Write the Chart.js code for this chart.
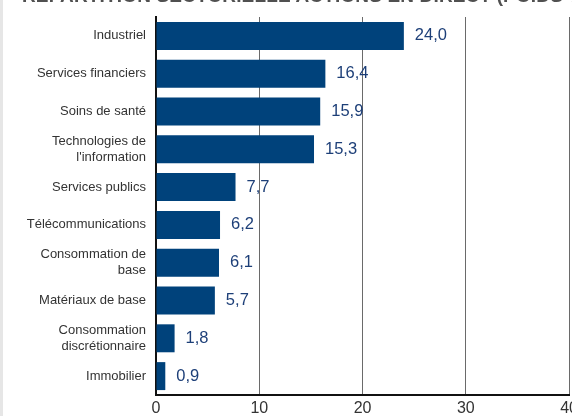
<!DOCTYPE html>
<html>
<head>
<meta charset="utf-8">
<script src="https://cdn.jsdelivr.net/npm/chart.js@4.4.0/dist/chart.umd.min.js"></script>
<style>
  html, body { margin:0; padding:0; background:#fff; overflow:hidden; width:572px; height:416px; }
  #wrap { position:absolute; left:0; top:0; width:582px; height:416px; }
  #edge { position:absolute; left:0; top:0; width:3px; height:416px; background:#e6e6e6; z-index:2; }
  #title { position:absolute; left:22px; top:-15px; white-space:nowrap; font-family:"Liberation Sans Narrow","Liberation Sans",Arial,sans-serif; font-weight:bold; font-size:19px; color:#505050; letter-spacing:0.15px; z-index:2; }
</style>
</head>
<body>
<div id="edge"></div>
<div id="title">RÉPARTITION SECTORIELLE ACTIONS EN DIRECT (POIDS %)</div>
<div id="wrap"><canvas id="c" width="582" height="416"></canvas></div>
<script>
const categories = [
  "Industriel",
  "Services financiers",
  "Soins de santé",
  ["Technologies de", "l'information"],
  "Services publics",
  "Télécommunications",
  ["Consommation de", "base"],
  "Matériaux de base",
  ["Consommation", "discrétionnaire"],
  "Immobilier"
];
const weights = [24.0, 16.4, 15.9, 15.3, 7.7, 6.2, 6.1, 5.7, 1.8, 0.9];
const xTicks = [0, 10, 20, 30, 40];

const valueLabels = {
  id: 'valueLabels',
  afterDatasetsDraw(chart) {
    const ctx = chart.ctx;
    const meta = chart.getDatasetMeta(0);
    ctx.save();
    ctx.font = '16.5px "Liberation Sans", Arial, sans-serif';
    ctx.fillStyle = '#1d3f78';
    ctx.textAlign = 'left';
    ctx.textBaseline = 'middle';
    meta.data.forEach((bar, i) => {
      ctx.fillText(weights[i].toFixed(1).replace('.', ','), bar.x + 11, bar.y);
    });
    ctx.restore();
  }
};

new Chart(document.getElementById('c'), {
  type: 'bar',
  data: {
    labels: categories,
    datasets: [{
      data: weights,
      backgroundColor: '#00427b',
      borderWidth: 0,
      barPercentage: 0.74,
      categoryPercentage: 1.0
    }]
  },
  options: {
    indexAxis: 'y',
    responsive: false,
    animation: false,
    layout: { padding: { left: 0, right: 0, top: 17, bottom: 0 } },
    plugins: { legend: { display: false }, tooltip: { enabled: false } },
    scales: {
      x: {
        min: 0, max: 40,
        afterBuildTicks(axis) { axis.ticks = xTicks.map(v => ({ value: v })); },
        grid: { color: '#6a6a6a', lineWidth: 1, drawTicks: false },
        border: { color: '#111', width: 2 },
        ticks: { color: '#333', font: { family: '"Liberation Sans", Arial, sans-serif', size: 16 }, padding: 4 },
        afterFit(axis) { axis.height = 21; }
      },
      y: {
        grid: { display: false },
        border: { color: '#111', width: 2 },
        ticks: { color: '#333', font: { family: '"Liberation Sans", Arial, sans-serif', size: 13, lineHeight: 1.25 }, padding: 2, autoSkip: false },
        afterFit(axis) { axis.width = 156; }
      }
    }
  },
  plugins: [valueLabels]
});
</script>
</body>
</html>
